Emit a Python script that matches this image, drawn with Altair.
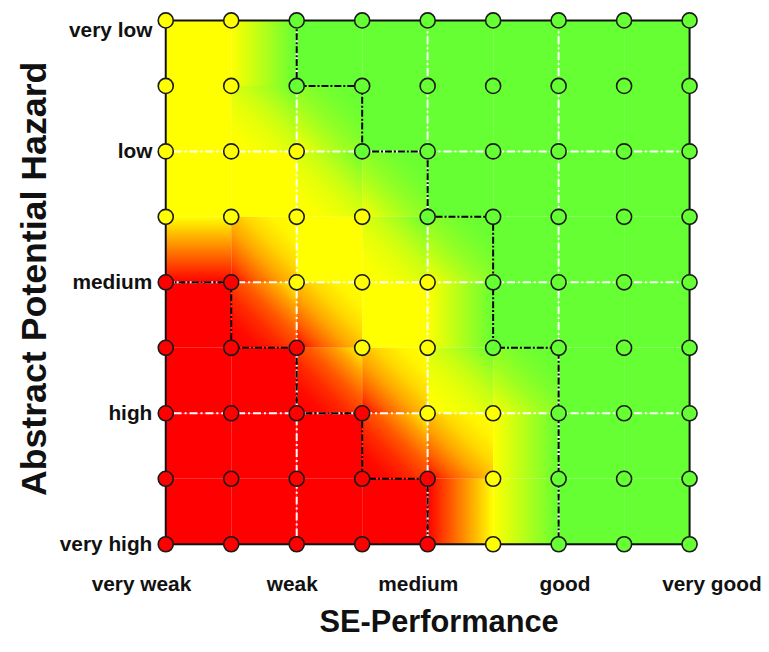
import altair as alt
import pandas as pd

# ---- data ----
# risk class of every grid point; rows: hazard "very low" (top) -> "very high" (bottom)
# columns: SE-performance "very weak" (left) -> "very good" (right)
risk_rows = [
    ["Y", "Y", "G", "G", "G", "G", "G", "G", "G"],
    ["Y", "Y", "G", "G", "G", "G", "G", "G", "G"],
    ["Y", "Y", "Y", "G", "G", "G", "G", "G", "G"],
    ["Y", "Y", "Y", "Y", "G", "G", "G", "G", "G"],
    ["R", "R", "Y", "Y", "Y", "G", "G", "G", "G"],
    ["R", "R", "R", "Y", "Y", "G", "G", "G", "G"],
    ["R", "R", "R", "R", "Y", "Y", "G", "G", "G"],
    ["R", "R", "R", "R", "R", "Y", "G", "G", "G"],
    ["R", "R", "R", "R", "R", "Y", "G", "G", "G"],
]
performance_labels = ["very weak", "weak", "medium", "good", "very good"]
hazard_labels = ["very low", "low", "medium", "high", "very high"]
label_ticks = [0, 2, 4, 6, 8]
grid_positions = [2, 4, 6]
frame_positions = [0, 8]

# boundary polylines (column, row)
green_edge_c = [2, 2, 3, 3, 4, 4, 5, 5, 6, 6]
green_edge_r = [0, 1, 1, 2, 2, 3, 3, 5, 5, 8]
red_edge_c = [0, 1, 1, 2, 2, 3, 3, 4, 4]
red_edge_r = [4, 4, 5, 5, 6, 6, 7, 7, 8]

risk_classes = ["R", "Y", "G"]
risk_colors = ["#ff0000", "#ffff00", "#66ff33"]
color_of = dict(zip(risk_classes, risk_colors))

FONT = "Liberation Sans"

# ---- tables built from the arrays ----
points = pd.DataFrame(
    [{"c": c, "r": r, "risk": k} for r, row in enumerate(risk_rows) for c, k in enumerate(row)]
)

cells = []
for r in range(len(risk_rows) - 1):
    for c in range(len(risk_rows[0]) - 1):
        corners = (risk_rows[r][c], risk_rows[r][c + 1], risk_rows[r + 1][c], risk_rows[r + 1][c + 1])
        cells.append({"c": c, "c2": c + 1, "r": r, "r2": r + 1,
                      "key": "".join(corners), "risk": corners[0]})
cells = pd.DataFrame(cells)

edges = pd.DataFrame(
    [{"c": c, "r": r, "edge": "green", "i": i} for i, (c, r) in enumerate(zip(green_edge_c, green_edge_r))]
    + [{"c": c, "r": r, "edge": "red", "i": i} for i, (c, r) in enumerate(zip(red_edge_c, red_edge_r))]
)


def mix(a, b, w):
    ca = [int(a[i:i + 2], 16) for i in (1, 3, 5)]
    cb = [int(b[i:i + 2], 16) for i in (1, 3, 5)]
    return "#%02x%02x%02x" % tuple(round(w * x + (1 - w) * y) for x, y in zip(ca, cb))


corner_pos = [(0, 0), (1, 0), (0, 1), (1, 1)]


def gradient_for(key):
    tl, tr, bl, br = key
    if tl == bl and tr == br:
        return alt.LinearGradient(gradient="linear", x1=0, y1=0, x2=1, y2=0,
                                  stops=[alt.GradientStop(color=color_of[tl], offset=0),
                                         alt.GradientStop(color=color_of[tr], offset=1)])
    if tl == tr and bl == br:
        return alt.LinearGradient(gradient="linear", x1=0, y1=0, x2=0, y2=1,
                                  stops=[alt.GradientStop(color=color_of[tl], offset=0),
                                         alt.GradientStop(color=color_of[bl], offset=1)])
    odd = [i for i in range(4) if key.count(key[i]) == 1][0]
    other = key[3 - odd]
    p, q = corner_pos[odd], corner_pos[3 - odd]
    stops = [alt.GradientStop(color=mix(color_of[key[odd]], color_of[other], (1 - t) ** 2), offset=t)
             for t in (0, 0.2, 0.4, 0.6, 0.8, 1)]
    return alt.LinearGradient(gradient="linear", x1=p[0], y1=p[1], x2=q[0], y2=q[1], stops=stops)


def label_expr(labels):
    parts = " : ".join(f"datum.value == {v} ? '{t}'" for v, t in zip(label_ticks, labels))
    return parts + " : ''"


x_axis = alt.Axis(
    values=label_ticks, labelExpr=label_expr(performance_labels), title="SE-Performance",
    domain=False, ticks=False, grid=False, labelAngle=0, labelFlush=False,
    labelFont=FONT, labelFontSize=21, labelFontWeight="bold", labelColor="#111111",
    labelPadding=30,
    labelOffset={"condition": [{"test": "datum.value == 0", "value": -25},
                               {"test": "datum.value == 2", "value": -5},
                               {"test": "datum.value == 4", "value": -10},
                               {"test": "datum.value == 6", "value": 6},
                               {"test": "datum.value == 8", "value": 22}], "value": 0},
    titleFont=FONT, titleFontSize=31, titleFontWeight="bold", titleColor="#111111",
    titleX=275, titleY=88, titleAlign="center", titleBaseline="alphabetic",
)
y_axis = alt.Axis(
    values=label_ticks, labelExpr=label_expr(hazard_labels), title="Abstract Potential Hazard",
    domain=False, ticks=False, grid=False, labelFlush=False,
    labelFont=FONT, labelFontSize=21, labelFontWeight="bold", labelColor="#111111",
    labelPadding=14,
    labelOffset={"condition": {"test": "datum.value == 0", "value": 10}, "value": 0},
    titleFont=FONT, titleFontSize=36, titleFontWeight="bold", titleColor="#111111",
    titleX=-121, titleY=260, titleAngle=270, titleAlign="center", titleBaseline="alphabetic",
)
x_scale = alt.Scale(domain=[0, 8], nice=False, zero=False)
y_scale = alt.Scale(domain=[0, 8], nice=False, zero=False, reverse=True)


def X(field="c"):
    return alt.X(f"{field}:Q", scale=x_scale, axis=x_axis)


def Y(field="r"):
    return alt.Y(f"{field}:Q", scale=y_scale, axis=y_axis)


risk_color = alt.Color("risk:N", scale=alt.Scale(domain=risk_classes, range=risk_colors), legend=None)

base_cells = alt.Chart(cells)
flat = base_cells.mark_rect(strokeWidth=0).encode(
    x=X(), x2="c2", y=Y(), y2="r2", color=risk_color
).transform_filter(alt.FieldOneOfPredicate(field="key", oneOf=[k * 4 for k in risk_classes]))

grad_layers = []
for key in sorted(set(cells["key"]) - {k * 4 for k in risk_classes}):
    grad_layers.append(
        base_cells.mark_rect(strokeWidth=0, fill=gradient_for(key)).encode(
            x=X(), x2="c2", y=Y(), y2="r2"
        ).transform_filter(alt.datum.key == key)
    )

grid_dash = [8, 3, 2, 3]
vgrid = alt.Chart(pd.DataFrame({"c": grid_positions})).mark_rule(
    color="white", strokeWidth=2, strokeDash=grid_dash).encode(x=X())
hgrid = alt.Chart(pd.DataFrame({"r": grid_positions})).mark_rule(
    color="white", strokeWidth=2, strokeDash=grid_dash).encode(y=Y())

vframe = alt.Chart(pd.DataFrame({"c": frame_positions})).mark_rule(
    color="#111111", strokeWidth=2).encode(x=X())
hframe = alt.Chart(pd.DataFrame({"r": frame_positions})).mark_rule(
    color="#111111", strokeWidth=2).encode(y=Y())

boundary = alt.Chart(edges).mark_line(
    color="#000000", strokeWidth=2, strokeDash=[7, 2, 2, 2]
).encode(x=X(), y=Y(), detail="edge:N", order="i:Q")

dots = alt.Chart(points).mark_circle(
    size=230, opacity=1, stroke="#1a1a1a", strokeWidth=1.6
).encode(x=X(), y=Y(), color=risk_color)

chart = alt.layer(flat, *grad_layers, vgrid, hgrid, vframe, hframe, boundary, dots).properties(
    width=528, height=528,
    autosize="none",
    padding={"left": 159, "top": 10, "right": 72, "bottom": 96},
).configure_view(stroke=None).configure(background="white")

chart.save("out.html", embed_options={"renderer": "svg", "actions": False})
